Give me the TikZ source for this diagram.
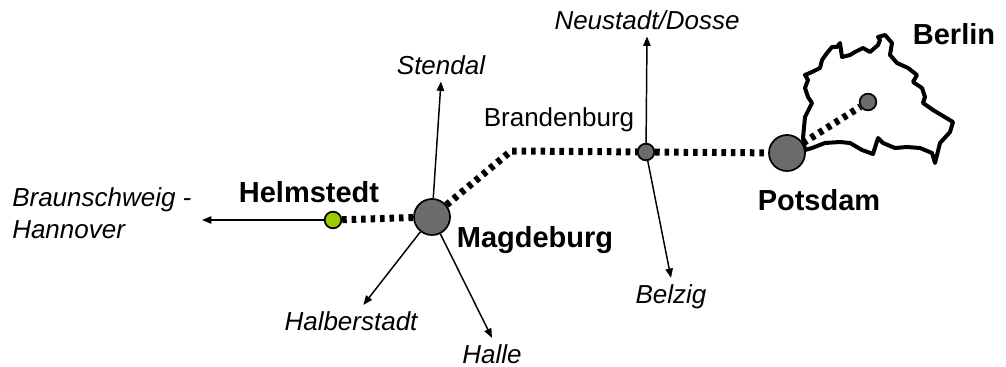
\documentclass[tikz,border=0pt]{standalone}
\usepackage{fontspec}
\setmainfont{Liberation Sans}
\usepackage{tikz}
\definecolor{color1}{HTML}{6B6B6B}
\definecolor{color2}{HTML}{99CC00}
\usetikzlibrary{arrows.meta}
\tikzset{
  stop/.style={circle,draw,line width=1.3pt,fill=color1,minimum size=12.5pt,inner sep=0},
  hub/.style={stop,minimum size=27pt},
  city/.style={anchor=base,font=\bfseries\fontsize{21.75pt}{26pt}\selectfont},
  dest/.style={anchor=base,inner sep=4.5pt,font=\itshape\fontsize{19.5pt}{23.4pt}\selectfont},
  track/.style={line width=5.25pt,dash pattern=on 3.4pt off 3.7pt},
  link/.style={-{Triangle[length=7pt,width=5.5pt]},line width=1.1pt}
}

\begin{document}
\begin{tikzpicture}[x=0.75pt,y=-0.75pt]
\useasboundingbox (0,0) rectangle (1006,367);

% outline of Berlin
\draw[line width=3pt,line join=round] (803,138) -- (805,117) -- (812,103) -- (808,97) -- (805,88) -- (808,80) -- (805,75) -- (812,72) -- (820,68) -- (822,60) -- (827,53) -- (832,47) -- (837,47) -- (840,43) -- (842,57) -- (850,55) -- (855,52) -- (863,48) -- (870,52) -- (878,45) -- (880,40) -- (878,37) -- (885,35) -- (892,43) -- (890,55) -- (897,63) -- (908,68) -- (917,75) -- (913,82) -- (922,88) -- (925,97) -- (923,103) -- (933,110) -- (953,122) -- (950,132) -- (940,143) -- (935,163) -- (932,153) -- (920,148) -- (907,147) -- (895,148) -- (883,143) -- (878,138) -- (873,154) -- (862,150) -- (850,143) -- (840,142) -- (825,143) -- (812,148) -- (805,150) -- cycle;

\node[stop,fill=color2] (helm) at (333,220) {};
\node[hub] (mag) at (432,217) {};
\node[stop] (bra) at (646,152) {};
\node[hub] (pot) at (787,153) {};
\node[stop] (ber) at (868,102) {};
\coordinate (bend) at (511,151);

\node[city] (helmLabel) at (309,202) {Helmstedt};
\node[city] (magLabel) at (535,247) {Magdeburg};
\node[city] (potLabel) at (819,210) {Potsdam};
\node[city] (berLabel) at (954,45) {Berlin};
\node[anchor=base,font=\fontsize{19.5pt}{23.4pt}\selectfont] (braLabel) at (559,127) {Brandenburg};

\node[dest] (stendal) at (441,75) {Stendal};
\node[dest] (neustadt) at (647,30) {Neustadt/Dosse};
\node[dest] (belzig) at (671,303) {Belzig};
\node[dest] (halber) at (351,330) {Halberstadt};
\node[dest] (halle) at (492,363) {Halle};
\node[dest,anchor=base west,align=left,inner sep=0] (braun) at (12,238) {Braunschweig -\\Hannover};
\coordinate (braunTip) at (202,220);

% tracks
\draw[track] (helm) -- (mag);
\draw[track] (mag) -- (bend) -- (bra) -- (pot);
\draw[track] (pot) -- (ber);

% branches
\draw[link] (helm) -- (braunTip);
\draw[link] (mag) -- (stendal.south);
\draw[link] (mag) -- (halber);
\draw[link] (mag) -- (halle.north);
\draw[link] (bra) -- (neustadt.south);
\draw[link] (bra) -- (belzig.north);

\end{tikzpicture}
\end{document}
